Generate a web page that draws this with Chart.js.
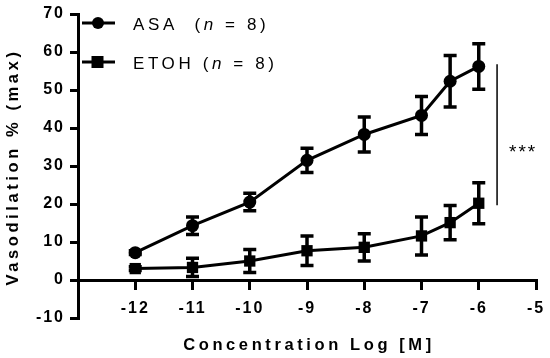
<!DOCTYPE html>
<html>
<head>
<meta charset="utf-8">
<script src="https://cdn.jsdelivr.net/npm/chart.js@4"></script>
<style>
html,body{margin:0;padding:0;background:#fff;}
#wrap{width:550px;height:358px;}
</style>
</head>
<body>
<div id="wrap"><canvas id="c" width="550" height="358"></canvas></div>
<script>
const concentrations = [-12, -11, -10, -9, -8, -7, -6.5, -6];
const asaMean = [7.2, 14.3, 20.5, 31.5, 38.3, 43.3, 52.3, 56.2];
const asaSem  = [0.5, 2.3, 2.3, 3.2, 4.6, 5.0, 6.8, 6.0];
const etohMean = [3.0, 3.3, 5.0, 7.7, 8.6, 11.6, 15.1, 20.2];
const etohSem  = [0.5, 2.4, 3.0, 3.9, 3.6, 5.0, 4.5, 5.4];
const seriesNames = ['ASA', 'ETOH'];
const nValues = [8, 8];
const xTicks = [-12, -11, -10, -9, -8, -7, -6, -5];
const yTicks = [-10, 0, 10, 20, 30, 40, 50, 60, 70];
const sigLabel = '***';
const xTitle = 'Concentration Log [M]';
const yTitle = 'Vasodilation % (max)';

const FONT = "'Liberation Sans', Arial, sans-serif";
const toPts = (xs, ys) => xs.map((x, i) => ({x: x, y: ys[i]}));

const errorBars = {
  id: 'errorBars',
  afterDatasetsDraw(chart) {
    const ctx = chart.ctx, xs = chart.scales.x, ys = chart.scales.y;
    const sems = [asaSem, etohSem];
    ctx.save();
    ctx.strokeStyle = '#000';
    ctx.lineWidth = 3.5;
    chart.data.datasets.forEach((ds, di) => {
      ds.data.forEach((p, i) => {
        const e = sems[di][i];
        const px = xs.getPixelForValue(p.x);
        const top = ys.getPixelForValue(p.y + e);
        const bot = ys.getPixelForValue(p.y - e);
        ctx.beginPath();
        ctx.moveTo(px, top); ctx.lineTo(px, bot);
        ctx.moveTo(px - 6.5, top); ctx.lineTo(px + 6.5, top);
        ctx.moveTo(px - 6.5, bot); ctx.lineTo(px + 6.5, bot);
        ctx.stroke();
      });
    });
    ctx.restore();
  }
};

const decorations = {
  id: 'decorations',
  beforeDraw(chart) {
    chart.ctx.letterSpacing = '2px';
  },
  afterDraw(chart) {
    const ctx = chart.ctx, xs = chart.scales.x, ys = chart.scales.y;
    ctx.save();
    ctx.fillStyle = '#000';
    ctx.strokeStyle = '#000';
    // significance bracket
    const bx = xs.getPixelForValue(-5.68);
    ctx.lineWidth = 1.5;
    ctx.beginPath();
    ctx.moveTo(bx, ys.getPixelForValue(56.8));
    ctx.lineTo(bx, ys.getPixelForValue(19.7));
    ctx.stroke();
    ctx.letterSpacing = '2px';
    ctx.font = '19px ' + FONT;
    ctx.textAlign = 'left';
    ctx.textBaseline = 'middle';
    ctx.fillText(sigLabel, bx + 12, ys.getPixelForValue(33.5));

    // axis titles
    ctx.font = 'bold 16.5px ' + FONT;
    ctx.letterSpacing = '3.6px';
    ctx.textAlign = 'center';
    ctx.textBaseline = 'middle';
    ctx.fillText(xTitle, 309, 345);
    ctx.save();
    ctx.translate(13, 167);
    ctx.rotate(-Math.PI / 2);
    ctx.fillText(yTitle, 0, 0);
    ctx.restore();

    // legend
    const legendY = [23, 62];
    ctx.letterSpacing = '3.6px';
    ctx.textAlign = 'left';
    ctx.textBaseline = 'middle';
    seriesNames.forEach((name, i) => {
      const y = legendY[i];
      ctx.lineWidth = 3;
      ctx.beginPath();
      ctx.moveTo(82, y); ctx.lineTo(115, y);
      ctx.stroke();
      if (i === 0) {
        ctx.beginPath(); ctx.arc(98, y, 6, 0, Math.PI * 2); ctx.fill();
      } else {
        ctx.fillRect(91.5, y - 6, 12, 12);
      }
      ctx.font = '17px ' + FONT;
      let x = 133;
      const head = name + (i === 0 ? '  (' : ' (');
      ctx.fillText(head, x, y + 2);
      x += ctx.measureText(head).width;
      ctx.font = 'italic 17px ' + FONT;
      ctx.fillText('n', x, y + 2);
      x += ctx.measureText('n').width;
      ctx.font = '17px ' + FONT;
      ctx.fillText(' = ' + nValues[i] + ')', x, y + 2);
    });
    ctx.restore();
  }
};

new Chart(document.getElementById('c'), {
  type: 'scatter',
  data: {
    datasets: [
      {
        label: seriesNames[0],
        data: toPts(concentrations, asaMean),
        showLine: true,
        borderColor: '#000',
        backgroundColor: '#000',
        borderWidth: 3,
        pointStyle: 'circle',
        pointRadius: 6.5,
        pointBorderWidth: 0,
        pointHoverRadius: 6.5
      },
      {
        label: seriesNames[1],
        data: toPts(concentrations, etohMean),
        showLine: true,
        borderColor: '#000',
        backgroundColor: '#000',
        borderWidth: 3,
        pointStyle: 'rect',
        pointRadius: 8,
        pointBorderWidth: 0,
        pointHoverRadius: 8
      }
    ]
  },
  options: {
    responsive: false,
    animation: false,
    events: [],
    layout: { padding: { top: 14, right: 14, bottom: 40, left: 0 } },
    plugins: { legend: { display: false }, tooltip: { enabled: false } },
    scales: {
      x: {
        type: 'linear',
        position: { y: 0 },
        min: -13,
        max: -5,
        afterFit(scale) { scale.height = 0; scale.paddingLeft = 0; scale.paddingRight = 0; },
        afterBuildTicks(scale) { scale.ticks = [-13].concat(xTicks).map(v => ({value: v})); },
        ticks: {
          color: '#000',
          font: { family: FONT, size: 16, weight: 'bold' },
          padding: 11,
          maxRotation: 0,
          autoSkip: false,
          callback: v => (v === -13 ? '' : String(v))
        },
        grid: { drawOnChartArea: false, color: '#000', lineWidth: 3, tickLength: 8 },
        border: { display: true, color: '#000', width: 3 }
      },
      y: {
        type: 'linear',
        min: -10,
        max: 70,
        afterFit(scale) { scale.width = 78; scale.paddingTop = 0; scale.paddingBottom = 0; },
        afterBuildTicks(scale) { scale.ticks = yTicks.map(v => ({value: v})); },
        ticks: {
          color: '#000',
          font: { family: FONT, size: 16, weight: 'bold' },
          padding: 5,
          autoSkip: false
        },
        grid: { drawOnChartArea: false, color: '#000', lineWidth: 3, tickLength: 8 },
        border: { display: true, color: '#000', width: 3 }
      }
    }
  },
  plugins: [errorBars, decorations]
});
</script>
</body>
</html>
